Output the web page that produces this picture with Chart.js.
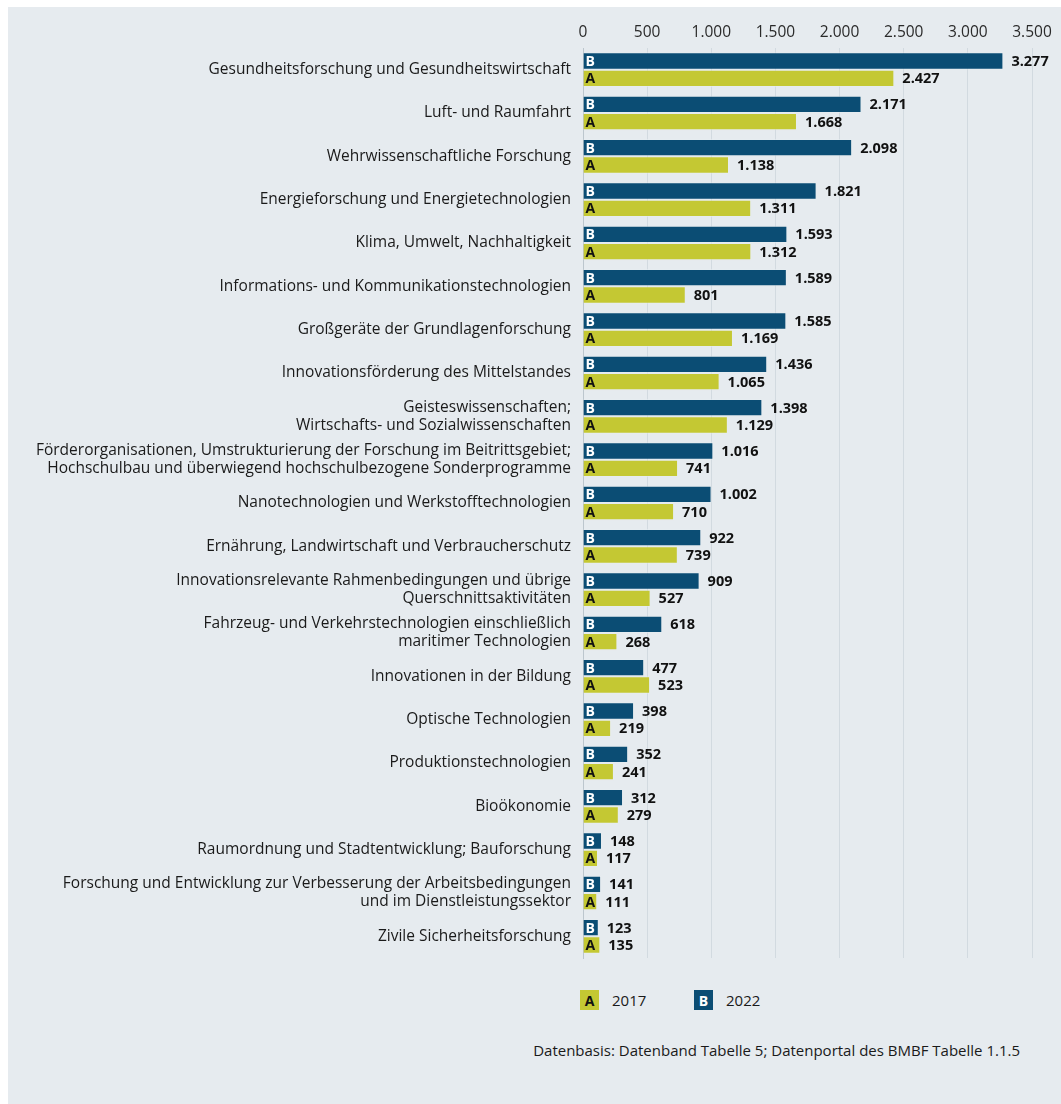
<!DOCTYPE html>
<html lang="de">
<head>
<meta charset="utf-8">
<script src="https://cdn.jsdelivr.net/npm/chart.js@4/dist/chart.umd.min.js"></script>
<style>
  html, body { margin: 0; padding: 0; background: #ffffff; }
  body { width: 1061px; height: 1104px; position: relative; overflow: hidden; font-family: "Open Sans", "Noto Sans", sans-serif; }
  #panel { position: absolute; left: 8px; top: 7px; width: 1053px; height: 1097px; background: #e6ebef; }
  #chartWrap { position: absolute; left: 0; top: 0; width: 1061px; height: 980px; }
  .lg { position: absolute; top: 990px; height: 20px; display: flex; align-items: center; font-size: 15px; color: #1a1a1a; }
  .lgbox { width: 19px; height: 20px; display: inline-flex; align-items: center; justify-content: center; font-weight: 700; font-size: 14px; margin-right: 13px; }
  #note { position: absolute; right: 41px; top: 1040px; font-size: 15px; color: #1a1a1a; }
</style>
</head>
<body>
<div id="panel"></div>
<div id="chartWrap"><canvas id="c" width="1061" height="980"></canvas></div>
<div class="lg" style="left:580px"><span class="lgbox" id="lgA"></span><span id="lgAt"></span></div>
<div class="lg" style="left:694px"><span class="lgbox" id="lgB"></span><span id="lgBt"></span></div>
<div id="note">Datenbasis: Datenband Tabelle 5; Datenportal des BMBF Tabelle 1.1.5</div>
<script>
const categories = [
  "Gesundheitsforschung und Gesundheitswirtschaft",
  "Luft- und Raumfahrt",
  "Wehrwissenschaftliche Forschung",
  "Energieforschung und Energietechnologien",
  "Klima, Umwelt, Nachhaltigkeit",
  "Informations- und Kommunikationstechnologien",
  "Großgeräte der Grundlagenforschung",
  "Innovationsförderung des Mittelstandes",
  ["Geisteswissenschaften;", "Wirtschafts- und Sozialwissenschaften"],
  ["Förderorganisationen, Umstrukturierung der Forschung im Beitrittsgebiet;", "Hochschulbau und überwiegend hochschulbezogene Sonderprogramme"],
  "Nanotechnologien und Werkstofftechnologien",
  "Ernährung, Landwirtschaft und Verbraucherschutz",
  ["Innovationsrelevante Rahmenbedingungen und übrige", "Querschnittsaktivitäten"],
  ["Fahrzeug- und Verkehrstechnologien einschließlich", "maritimer Technologien"],
  "Innovationen in der Bildung",
  "Optische Technologien",
  "Produktionstechnologien",
  "Bioökonomie",
  "Raumordnung und Stadtentwicklung; Bauforschung",
  ["Forschung und Entwicklung zur Verbesserung der Arbeitsbedingungen", "und im Dienstleistungssektor"],
  "Zivile Sicherheitsforschung"
];
const values2022 = [3277, 2171, 2098, 1821, 1593, 1589, 1585, 1436, 1398, 1016, 1002, 922, 909, 618, 477, 398, 352, 312, 148, 141, 123];
const values2017 = [2427, 1668, 1138, 1311, 1312, 801, 1169, 1065, 1129, 741, 710, 739, 527, 268, 523, 219, 241, 279, 117, 111, 135];
const seriesNames = ["2022", "2017"];
const seriesLetters = ["B", "A"];
const xTickValues = [0, 500, 1000, 1500, 2000, 2500, 3000, 3500];

const COL_B = "#0b4d74";
const COL_A = "#c4c833";

function fmt(v) {
  return String(v).replace(/\B(?=(\d{3})+(?!\d))/g, ".");
}

document.getElementById("lgA").textContent = seriesLetters[1];
document.getElementById("lgA").style.background = COL_A;
document.getElementById("lgA").style.color = "#111";
document.getElementById("lgAt").textContent = seriesNames[1];
document.getElementById("lgB").textContent = seriesLetters[0];
document.getElementById("lgB").style.background = COL_B;
document.getElementById("lgB").style.color = "#fff";
document.getElementById("lgBt").textContent = seriesNames[0];

const barLabels = {
  id: "barLabels",
  afterDatasetsDraw(chart) {
    const ctx = chart.ctx;
    ctx.save();
    chart.data.datasets.forEach((ds, di) => {
      const meta = chart.getDatasetMeta(di);
      meta.data.forEach((bar, i) => {
        const v = ds.data[i];
        const p = bar.getProps(["x", "y", "base", "height"], true);
        ctx.font = "700 14px 'Open Sans', sans-serif";
        ctx.textBaseline = "middle";
        ctx.textAlign = "left";
        ctx.fillStyle = di === 0 ? "#ffffff" : "#111111";
        ctx.fillText(seriesLetters[di], p.base + 2, p.y + 1);
        ctx.font = "700 14.5px 'Open Sans', sans-serif";
        ctx.fillStyle = "#111111";
        ctx.fillText(fmt(v), p.x + 8, p.y + 1);
      });
    });
    ctx.restore();
  }
};

new Chart(document.getElementById("c"), {
  type: "bar",
  data: {
    labels: categories,
    datasets: [
      { label: seriesNames[0], data: values2022, backgroundColor: COL_B, borderColor: "rgba(230,236,240,0.6)", borderWidth: 1, borderSkipped: "left" },
      { label: seriesNames[1], data: values2017, backgroundColor: COL_A, borderColor: "rgba(230,236,240,0.6)", borderWidth: 1, borderSkipped: "left" }
    ]
  },
  options: {
    indexAxis: "y",
    responsive: false,
    animation: false,
    events: [],
    layout: { padding: { top: 0, right: 29, bottom: 22, left: 0 } },
    datasets: { bar: { categoryPercentage: 0.8, barPercentage: 1.0 } },
    plugins: { legend: { display: false }, tooltip: { enabled: false } },
    scales: {
      x: {
        position: "top",
        min: 0,
        max: 3500,
        afterFit(scale) { scale.height = 48; },
        afterBuildTicks(scale) { scale.ticks = xTickValues.map(v => ({ value: v })); },
        ticks: {
          padding: 6,
          color: "#2a2a2a",
          font: { family: "'Open Sans', sans-serif", size: 15.5 },
          callback: (v) => fmt(v)
        },
        grid: { color: "#d2dae0", lineWidth: 1, drawTicks: false },
        border: { display: false }
      },
      y: {
        afterFit(scale) { scale.width = 583; },
        ticks: {
          padding: 12,
          color: "#1a1a1a",
          font: { family: "'Open Sans', sans-serif", size: 15.5, lineHeight: 1.17 },
          autoSkip: false
        },
        grid: { display: false, drawTicks: false },
        border: { display: true, color: "#bcc6cd", width: 1 }
      }
    }
  },
  plugins: [barLabels]
});
</script>
</body>
</html>
